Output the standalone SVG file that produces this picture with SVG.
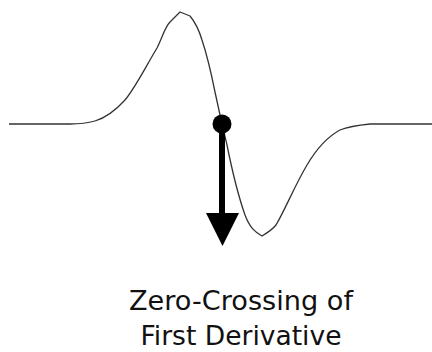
<svg xmlns="http://www.w3.org/2000/svg" width="432" height="352" viewBox="0 0 432 352">
<style>
.curve{fill:none;stroke:#333;stroke-width:1.3;stroke-linejoin:round}
.lbl{font-family:"DejaVu Sans","Liberation Sans",Arial,sans-serif;font-size:26px;fill:#111;text-anchor:middle}
</style>
<g id="curve">
<path class="curve" d="M9,124 L70,124 C80,124 88,123 95,121 C105,118 115,111 125,100 C135,88 145,68 157,48 C162,38 165,27 170,22 L180,12 L190,16 C195,22 199,30 202,40 C207,55 211,72 215,92 L222,124 L227,145 C232,170 238,195 245,215 C250,228 255,232 262,236 C267,233 272,230 276,225 C285,210 295,185 307,165 C317,148 327,137 340,130 C350,126 360,125 370,124 L432,124"/>
</g>
<g id="connectors">
<line x1="222" y1="124" x2="222" y2="215" stroke="#000" stroke-width="6"/>
<polygon points="206,213 239,213 222.5,246" fill="#000"/>
</g>
<g id="point">
<circle cx="222" cy="124" r="9.5" fill="#000"/>
</g>
<g id="label">
<text class="lbl" x="241" y="310" textLength="224" lengthAdjust="spacingAndGlyphs">Zero-Crossing of</text>
<text class="lbl" x="241" y="345" textLength="201" lengthAdjust="spacingAndGlyphs">First Derivative</text>
</g>
</svg>
